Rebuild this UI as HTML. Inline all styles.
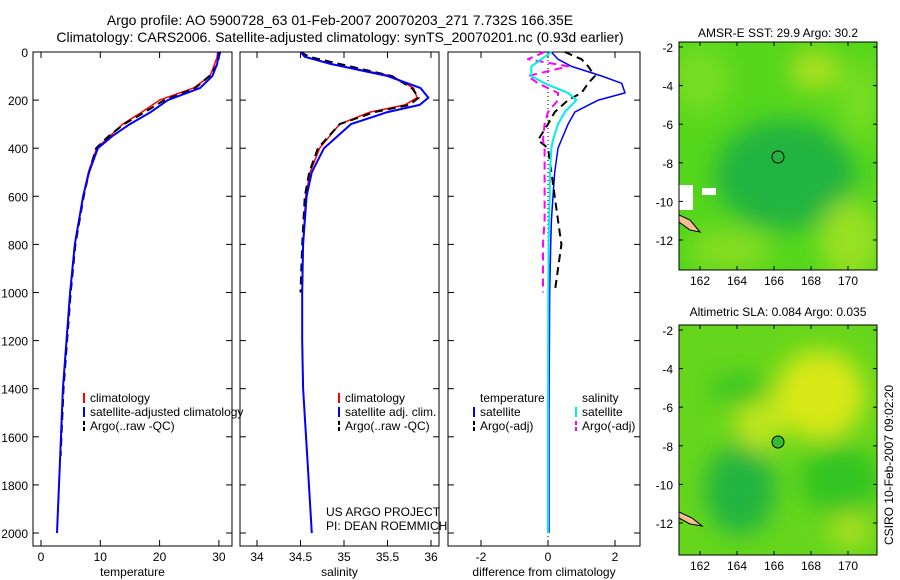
<!DOCTYPE html>
<html><head><meta charset="utf-8"><style>
body{margin:0;background:#fff;}
svg{display:block;font-family:"Liberation Sans",sans-serif;}
</style></head><body>
<svg id="c" width="900" height="580" xmlns="http://www.w3.org/2000/svg">
<defs>
<filter id="bl" x="-50%" y="-50%" width="200%" height="200%"><feGaussianBlur stdDeviation="12"/></filter>
<clipPath id="cm1"><rect x="679" y="42" width="198" height="228"/></clipPath>
<clipPath id="cm2"><rect x="679" y="325" width="198" height="230"/></clipPath>
</defs>
<text x="340" y="25" font-size="14" text-anchor="middle">Argo profile: AO 5900728_63 01-Feb-2007 20070203_271 7.732S 166.35E</text>
<text x="340" y="42" font-size="14" text-anchor="middle">Climatology: CARS2006. Satellite-adjusted climatology: synTS_20070201.nc (0.93d earlier)</text>
<g id="maps">
<text x="778" y="37" font-size="12" text-anchor="middle">AMSR-E SST: 29.9 Argo: 30.2</text>
<g clip-path="url(#cm1)">
<rect x="679" y="42" width="198" height="228" fill="#55d61c"/>
<g filter="url(#bl)">
<ellipse cx="785" cy="175" rx="70" ry="55" fill="#22b440"/>
<ellipse cx="700" cy="80" rx="30" ry="35" fill="#77dd22"/>
<ellipse cx="850" cy="240" rx="30" ry="40" fill="#99e022"/>
<ellipse cx="815" cy="70" rx="25" ry="20" fill="#aee022"/>
<ellipse cx="730" cy="250" rx="40" ry="20" fill="#88dd22"/>
<ellipse cx="860" cy="100" rx="20" ry="40" fill="#77dd22"/>
</g>
<rect x="679" y="185" width="14" height="25" fill="#fff"/>
<rect x="702" y="188" width="14" height="7" fill="#fff"/>
<path d="M679,215 L690,220 L700,232 L690,230 L679,222Z" fill="#f5c090" stroke="#000"/>
</g>
<circle cx="778" cy="157" r="6" fill="none" stroke="#000"/>
<text x="778" y="316" font-size="12" text-anchor="middle">Altimetric SLA: 0.084 Argo: 0.035</text>
<g clip-path="url(#cm2)">
<rect x="679" y="325" width="198" height="230" fill="#66d61c"/>
<g filter="url(#bl)">
<ellipse cx="820" cy="395" rx="45" ry="45" fill="#d8e818"/>
<ellipse cx="760" cy="420" rx="25" ry="30" fill="#bfe61c"/>
<ellipse cx="740" cy="490" rx="35" ry="45" fill="#22b440"/>
<ellipse cx="840" cy="480" rx="40" ry="35" fill="#33c422"/>
<ellipse cx="740" cy="390" rx="30" ry="15" fill="#33c422"/>
<ellipse cx="850" cy="530" rx="20" ry="18" fill="#aee022"/>
</g>
<path d="M679,512 L692,518 L702,526 L690,524 L679,518Z" fill="#f5c090" stroke="#000"/>
</g>
<circle cx="778" cy="442" r="6" fill="#33bb33" stroke="#000"/>
<text transform="translate(893,465) rotate(-90)" font-size="12" text-anchor="middle">CSIRO 10-Feb-2007 09:02:20</text>
</g>
</svg>
<script>
const tDepths=[0,20,50,100,150,200,250,300,350,400,500,600,800,1000,1200,1400,1700,2000];
const tClim=[29.8,29.7,29.3,28.5,25.7,20,17,13.8,11.6,9.4,8,7.1,5.7,4.9,4.3,3.7,3.2,2.7];
const tSat=[29.9,29.9,29.7,28.9,26.8,21.4,18.5,15,12,9.6,8.1,7.1,5.7,4.9,4.3,3.7,3.2,2.7];
const argoDepths=[0,20,50,100,150,200,250,300,350,400,500,600,800,1000,1200,1400,1680];
const tArgo=[30.2,30,29.8,28.4,26,20.8,17.5,14,11.4,9.3,8.1,7.2,5.8,5.0,4.4,3.8,3.3];
const sDepths=[0,20,50,100,150,190,220,250,300,400,500,600,800,1000,1200,1400,1700,2000];
const sClim=[34.5,34.55,34.85,35.55,35.8,35.84,35.7,35.3,34.95,34.72,34.61,34.56,34.53,34.52,34.52,34.53,34.58,34.63];
const sSat=[34.5,34.55,34.85,35.5,35.88,35.97,35.87,35.5,35.08,34.77,34.63,34.57,34.53,34.52,34.52,34.53,34.58,34.63];
const sArgoDepths=[0,20,50,100,150,190,220,250,300,400,500,600,800,1000];
const sArgo=[34.5,34.6,34.95,35.55,35.78,35.86,35.75,35.35,34.95,34.7,34.6,34.55,34.52,34.5];
const dDepths=[0,30,60,100,130,170,200,250,300,366,400,500,600,700,800,1000,1500,2000];
const dTSat=[0.1,0.3,0.7,1.6,2.2,2.3,1.5,0.8,0.6,0.4,0.3,0.2,0.15,0.1,0.08,0.05,0.03,0.03];
const dSSat=[0.1,-0.2,-0.5,-0.5,-0.1,0.6,0.85,0.5,0.3,0.15,0.1,0.06,0.05,0.03,0.02,0.01,0,0];
const dTArgo=[0.5,1.0,1.2,1.4,1.2,1.0,0.6,0.2,0,-0.3,0,0.1,0.2,0.3,0.4,0.2,null,null];
const dSArgo=[-0.1,-0.6,0.6,-0.6,-0.3,0.3,0.3,0,-0.1,-0.15,-0.1,-0.1,-0.1,-0.1,-0.15,-0.15,null,null];
const depthTicks=[0,200,400,600,800,1000,1200,1400,1600,1800,2000];
const tTicks=[0,10,20,30], sTicks=[34,34.5,35,35.5,36], dTicks=[-2,0,2];
const lonTicks=[162,164,166,168,170], latTicks=[-2,-4,-6,-8,-10,-12];
const NS='http://www.w3.org/2000/svg', svg=document.getElementById('c');
function el(t,a,p){const e=document.createElementNS(NS,t);for(const k in a)e.setAttribute(k,a[k]);(p||svg).appendChild(e);return e;}
const Y=d=>52+d*0.2405;
const panels=[
 {x0:33,x1:232,f:v=>41+5.93*v,ticks:tTicks,lab:'temperature',name:'temperature'},
 {x0:240,x1:439,f:v=>257+87*(v-34),ticks:sTicks,lab:'salinity',name:'salinity'},
 {x0:448,x1:640,f:v=>548+33.5*v,ticks:dTicks,lab:'difference from climatology',name:'difference'}];
panels.forEach((p,i)=>{
 const g=el('g',{});
 
 
 el('rect',{x:p.x0,y:52,width:p.x1-p.x0,height:494,fill:'none',stroke:'#000'},g);
 p.ticks.forEach(v=>{const x=p.f(v);
  el('line',{x1:x,x2:x,y1:546,y2:540,stroke:'#000'},g);el('line',{x1:x,x2:x,y1:52,y2:58,stroke:'#000'},g);
  const t=el('text',{x:x,y:561,'font-size':12,'text-anchor':'middle'},g);t.textContent=String(v);
  });
 depthTicks.forEach(d=>{const y=Y(d);
  el('line',{x1:p.x0,x2:p.x0+6,y1:y,y2:y,stroke:'#000'},g);el('line',{x1:p.x1,x2:p.x1-6,y1:y,y2:y,stroke:'#000'},g);
  if(i==0){const t=el('text',{x:28,y:y+5,'font-size':12,'text-anchor':'end'},g);t.textContent=d;
  }});
 const t=el('text',{x:(p.x0+p.x1)/2,y:576,'font-size':12,'text-anchor':'middle'},g);t.textContent=p.lab;
 
});
function line(ds,vs,f,color,w,dash,name){
 let s='';ds.forEach((d,i)=>{if(vs[i]==null)return;s+=(s?'L':'M')+f(vs[i]).toFixed(1)+','+Y(d).toFixed(1);});
 const e=el('path',{d:s,fill:'none',stroke:color,'stroke-width':w,'stroke-linejoin':'round'});if(dash)e.setAttribute('stroke-dasharray',dash);
 }
const [pT,pS,pD]=panels;
line(tDepths,tClim,pT.f,'#f00',1.5,null,'temp-climatology-line');
line(argoDepths,tArgo,pT.f,'#000',2,'8,5','temp-argo-line');
line(tDepths,tSat,pT.f,'#00f',2,null,'temp-satellite-line');
line(sDepths,sClim,pS.f,'#f00',1.5,null,'sal-climatology-line');
line(sArgoDepths,sArgo,pS.f,'#000',2,'8,5','sal-argo-line');
line(sDepths,sSat,pS.f,'#00f',2,null,'sal-satellite-line');
el('line',{x1:548,x2:548,y1:52,y2:546,stroke:'#000','stroke-dasharray':'1,3'});
line(dDepths,dTSat,pD.f,'#00f',1.5,null,'diff-temp-satellite-line');
line(dDepths,dTArgo,pD.f,'#000',2,'8,5','diff-temp-argo-line');
line(dDepths,dSArgo,pD.f,'#f0f',2,'8,5','diff-sal-argo-line');
line(dDepths,dSSat,pD.f,'#0ee',2,null,'diff-sal-satellite-line');
function leg(x,y,c,dash,txt,name){
 const l=el('line',{x1:x,x2:x,y1:y-9,y2:y+1,stroke:c,'stroke-width':2});if(dash)l.setAttribute('stroke-dasharray','4,2');
 const t=el('text',{x:x+6,y:y,'font-size':12});t.textContent=txt;
 }
leg(84,402,'#f00',0,'climatology','legend-entry-climatology');
leg(84,416,'#00f',0,'satellite-adjusted climatology','legend-entry-satellite');
leg(84,430,'#000',1,'Argo(..raw -QC)','legend-entry-argo');
leg(339,402,'#f00',0,'climatology','legend-entry-sal-climatology');
leg(339,416,'#00f',0,'satellite adj. clim.','legend-entry-sal-satellite');
leg(339,430,'#000',1,'Argo(..raw -QC)','legend-entry-sal-argo');
let tt=el('text',{x:480,y:402,'font-size':12});tt.textContent='temperature';
tt=el('text',{x:582,y:402,'font-size':12});tt.textContent='salinity';
leg(474,416,'#00f',0,'satellite','legend-diff-temp-satellite');
leg(474,430,'#000',1,'Argo(-adj)','legend-diff-temp-argo');
leg(576,416,'#0ee',0,'satellite','legend-diff-sal-satellite');
leg(576,430,'#f0f',1,'Argo(-adj)','legend-diff-sal-argo');
tt=el('text',{x:326,y:516,'font-size':12});tt.textContent='US ARGO PROJECT';
tt=el('text',{x:326,y:530,'font-size':12});tt.textContent='PI: DEAN ROEMMICH';
const LX=v=>700+18.5*(v-162);
[[42,270,47],[325,555,330]].forEach(([y0,y1,yl])=>{
 el('rect',{x:679,y:y0,width:198,height:y1-y0,fill:'none',stroke:'#000'});
 lonTicks.forEach(v=>{const x=LX(v);el('line',{x1:x,x2:x,y1:y1,y2:y1-4,stroke:'#000'});el('line',{x1:x,x2:x,y1:y0,y2:y0+4,stroke:'#000'});
  const t=el('text',{x:x,y:y1+15,'font-size':12,'text-anchor':'middle'});t.textContent=v;
  });
 latTicks.forEach(v=>{const yy=yl+(-2-v)*19.3;
  el('line',{x1:679,x2:683,y1:yy,y2:yy,stroke:'#000'});el('line',{x1:877,x2:873,y1:yy,y2:yy,stroke:'#000'});
  const t=el('text',{x:673,y:yy+5,'font-size':12,'text-anchor':'end'});t.textContent=v;
  });
});
</script>
</body></html>
